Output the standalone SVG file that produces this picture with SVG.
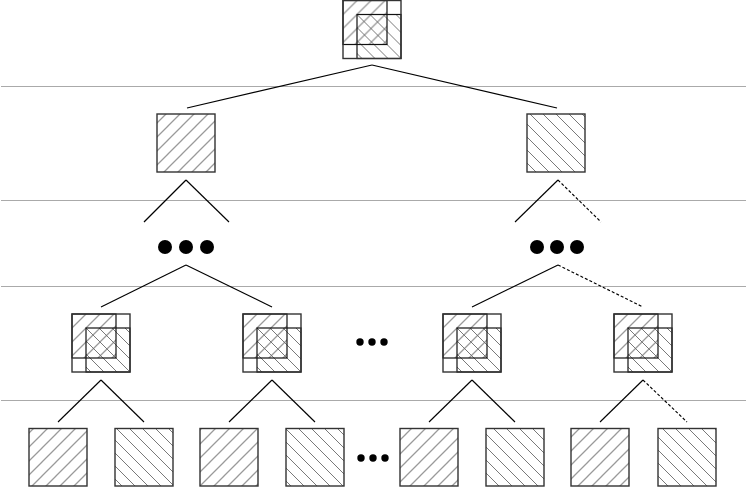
<svg xmlns="http://www.w3.org/2000/svg" width="748" height="490" viewBox="0 0 748 490">
<defs>
<pattern id="fw" patternUnits="userSpaceOnUse" width="14" height="14">
<path d="M-1,15 L15,-1 M-1,1 L1,-1 M13,15 L15,13" stroke="#9a9a9a" stroke-width="1.3"/>
</pattern>
<pattern id="bw" patternUnits="userSpaceOnUse" width="13" height="13">
<path d="M-1,-1 L14,14 M12,-1 L14,1 M-1,12 L1,14" stroke="#6a6a6a" stroke-width="0.9"/>
</pattern>
<g id="comp">
<rect x="0" y="0" width="44" height="44" fill="url(#fw)"/>
<rect x="14" y="14" width="44" height="44" fill="url(#bw)"/>
<rect x="0" y="0" width="44" height="44" fill="none" stroke="#111" stroke-width="1.2"/>
<rect x="14" y="14" width="44" height="44" fill="none" stroke="#111" stroke-width="1.2"/>
<rect x="0" y="0" width="58" height="58" fill="none" stroke="#333" stroke-width="1.4"/>
</g>
</defs>
<style>
.lvl{stroke:#aaa;stroke-width:1.2;fill:none}
.e{stroke:#000;stroke-width:1.15;fill:none}
.d{stroke:#000;stroke-width:1.15;fill:none;stroke-dasharray:3,2}
.f{fill:url(#fw);stroke:#333;stroke-width:1.4}
.b{fill:url(#bw);stroke:#333;stroke-width:1.4}
.dot{fill:#000}
</style>
<g id="levels">
<line class="lvl" x1="1" y1="86.5" x2="746" y2="86.5"/>
<line class="lvl" x1="1" y1="200.5" x2="746" y2="200.5"/>
<line class="lvl" x1="1" y1="286.5" x2="746" y2="286.5"/>
<line class="lvl" x1="1" y1="400.5" x2="746" y2="400.5"/>
</g>
<g id="connectors">
<line class="e" x1="372" y1="65" x2="187" y2="108"/>
<line class="e" x1="372" y1="65" x2="557" y2="108"/>
<line class="e" x1="186" y1="180" x2="144" y2="222"/>
<line class="e" x1="186" y1="180" x2="229" y2="222"/>
<line class="e" x1="558" y1="180" x2="515" y2="222"/>
<line class="d" x1="558" y1="180" x2="601" y2="222"/>
<line class="e" x1="186" y1="265" x2="101" y2="307"/>
<line class="e" x1="186" y1="265" x2="272" y2="307"/>
<line class="e" x1="558" y1="265" x2="472" y2="307"/>
<line class="d" x1="558" y1="265" x2="643" y2="307"/>
<line class="e" x1="101" y1="380" x2="58" y2="422"/>
<line class="e" x1="101" y1="380" x2="144" y2="422"/>
<line class="e" x1="272" y1="380" x2="229" y2="422"/>
<line class="e" x1="272" y1="380" x2="315" y2="422"/>
<line class="e" x1="472" y1="380" x2="429" y2="422"/>
<line class="e" x1="472" y1="380" x2="515" y2="422"/>
<line class="e" x1="643" y1="380" x2="600" y2="422"/>
<line class="d" x1="643" y1="380" x2="687" y2="422"/>
</g>
<g id="root"><use href="#comp" x="343" y="0.5"/></g>
<g id="n1l"><rect class="f" x="157" y="114" width="58" height="58"/></g>
<g id="n1r"><rect class="b" x="527" y="114" width="58" height="58"/></g>
<g id="dotsL"><circle class="dot" cx="165" cy="247" r="7"/><circle class="dot" cx="186" cy="247" r="7"/><circle class="dot" cx="207" cy="247" r="7"/></g>
<g id="dotsR"><circle class="dot" cx="537" cy="247" r="7"/><circle class="dot" cx="557" cy="247" r="7"/><circle class="dot" cx="577" cy="247" r="7"/></g>
<g id="n3a"><use href="#comp" x="72" y="314"/></g>
<g id="n3b"><use href="#comp" x="243" y="314"/></g>
<g id="n3c"><use href="#comp" x="443" y="314"/></g>
<g id="n3d"><use href="#comp" x="614" y="314"/></g>
<g id="dots3"><circle class="dot" cx="360" cy="342" r="3.7"/><circle class="dot" cx="372" cy="342" r="3.7"/><circle class="dot" cx="384" cy="342" r="3.7"/></g>
<g id="n4a"><rect class="f" x="29" y="428.5" width="58" height="57.5"/></g>
<g id="n4b"><rect class="b" x="115" y="428.5" width="58" height="57.5"/></g>
<g id="n4c"><rect class="f" x="200" y="428.5" width="58" height="57.5"/></g>
<g id="n4d"><rect class="b" x="286" y="428.5" width="58" height="57.5"/></g>
<g id="n4e"><rect class="f" x="400" y="428.5" width="58" height="57.5"/></g>
<g id="n4f"><rect class="b" x="486" y="428.5" width="58" height="57.5"/></g>
<g id="n4g"><rect class="f" x="571" y="428.5" width="58" height="57.5"/></g>
<g id="n4h"><rect class="b" x="658" y="428.5" width="58" height="57.5"/></g>
<g id="dots4"><circle class="dot" cx="361" cy="458" r="3.7"/><circle class="dot" cx="373" cy="458" r="3.7"/><circle class="dot" cx="385" cy="458" r="3.7"/></g>
</svg>
